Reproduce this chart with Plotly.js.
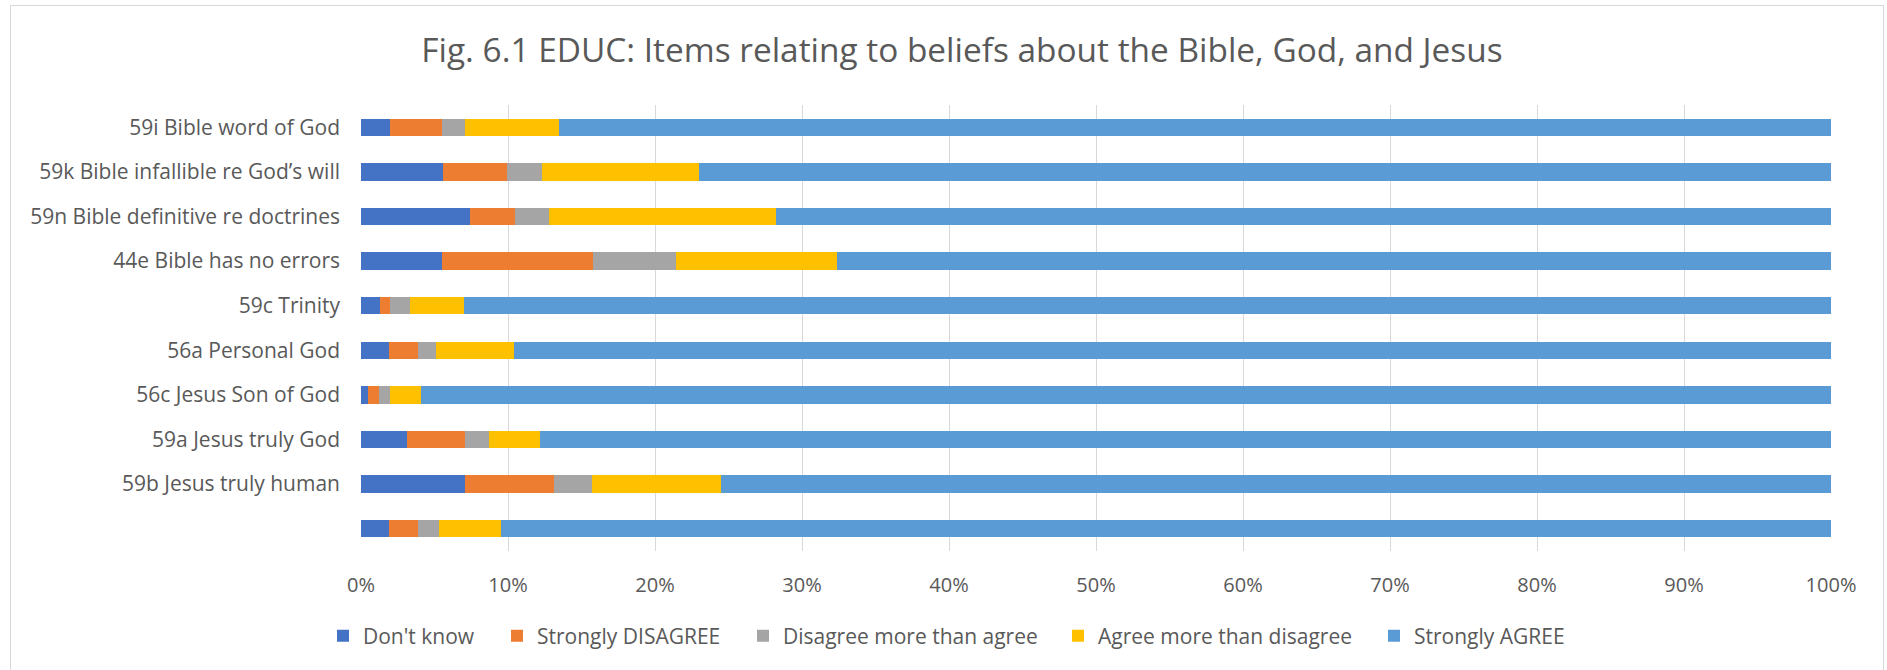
<!DOCTYPE html>
<html>
<head>
<meta charset="utf-8">
<script src="https://cdn.plot.ly/plotly-3.0.1.min.js"></script>
<style>
  html, body { margin: 0; padding: 0; background: #ffffff; }
  #wrap { position: relative; width: 1887px; height: 670px; }
  #chart { width: 1887px; height: 670px; }
  #frame { position: absolute; left: 10px; top: 5px; width: 1874px; height: 670px;
           border: 1px solid #D9D9D9; box-sizing: border-box; pointer-events: none; }
</style>
</head>
<body>
<div id="wrap">
  <div id="chart"></div>
  <div id="frame"></div>
</div>
<script>
const categories = [
  "59i Bible word of God",
  "59k Bible infallible re God\u2019s will",
  "59n Bible definitive re doctrines",
  "44e Bible has no errors",
  "59c Trinity",
  "56a Personal God",
  "56c Jesus Son of God",
  "59a Jesus truly God",
  "59b Jesus truly human",
  " "
];
const seriesNames = ["Don't know", "Strongly DISAGREE", "Disagree more than agree", "Agree more than disagree", "Strongly AGREE"];
const dontKnow        = [2.0, 5.6, 7.4, 5.5, 1.3, 1.9, 0.5, 3.1, 7.1, 1.9];
const stronglyDisagree= [3.5, 4.3, 3.1, 10.3, 0.7, 2.0, 0.7, 4.0, 6.0, 2.0];
const disagreeMore    = [1.6, 2.4, 2.3, 5.6, 1.3, 1.2, 0.8, 1.6, 2.6, 1.4];
const agreeMore       = [6.4, 10.7, 15.4, 11.0, 3.7, 5.3, 2.1, 3.5, 8.8, 4.2];
const stronglyAgree   = [86.5, 77.0, 71.8, 67.6, 93.0, 89.6, 95.9, 87.8, 75.5, 90.5];
const tickVals = [0, 10, 20, 30, 40, 50, 60, 70, 80, 90, 100];
const tickText = ["0%", "10%", "20%", "30%", "40%", "50%", "60%", "70%", "80%", "90%", "100%"];

const colors = ["#4472C4", "#ED7D31", "#A5A5A5", "#FFC000", "#5B9BD5"];
const allSeries = [dontKnow, stronglyDisagree, disagreeMore, agreeMore, stronglyAgree];
const legendIds = ["legend", "legend2", "legend3", "legend4", "legend5"];
// pixel x where each legend label text starts in the picture
const legendTextStart = [363, 537, 783, 1098, 1414];

const traces = allSeries.map((vals, i) => ({
  type: "bar",
  orientation: "h",
  name: seriesNames[i],
  x: vals,
  y: categories,
  legend: legendIds[i],
  marker: { color: colors[i], line: { width: 0 } },
  hoverinfo: "x+y+name"
}));

const font = "'Open Sans', 'Noto Sans', sans-serif";
const plotL = 361, plotR = 1831, plotT = 105, plotB = 551;
const plotW = plotR - plotL, plotH = plotB - plotT;

const layout = {
  width: 1887,
  height: 670,
  paper_bgcolor: "#ffffff",
  plot_bgcolor: "#ffffff",
  barmode: "stack",
  bargap: 0.61,
  margin: { l: plotL, r: 1887 - plotR, t: plotT, b: 670 - plotB, pad: 0 },
  title: {
    text: "Fig. 6.1 EDUC: Items relating to beliefs about the Bible, God, and Jesus",
    font: { family: font, size: 33.4, color: "#595959" },
    x: (420 + 1504) / 2 / 1887, xanchor: "center", xref: "container",
    y: 1 - 50 / 670, yanchor: "middle", yref: "container"
  },
  font: { family: font, size: 21, color: "#595959" },
  xaxis: {
    range: [0, 100],
    tickvals: tickVals,
    ticktext: tickText,
    showgrid: true,
    gridcolor: "#D9D9D9",
    gridwidth: 1,
    zeroline: false,
    showline: false,
    ticks: "",
    ticklabelstandoff: 20,
    tickfont: { family: font, size: 20, color: "#595959" },
    fixedrange: true
  },
  yaxis: {
    type: "category",
    categoryorder: "array",
    categoryarray: categories,
    autorange: "reversed",
    showgrid: false,
    zeroline: false,
    showline: false,
    ticks: "",
    ticklabelstandoff: 20,
    tickfont: { family: font, size: 21, color: "#595959" },
    fixedrange: true
  },
  showlegend: true
};

legendIds.forEach((id, i) => {
  layout[id] = {
    orientation: "h",
    x: (legendTextStart[i] - 40 - plotL) / plotW,
    xanchor: "left",
    y: (plotB - 636) / plotH,
    yanchor: "middle",
    font: { family: font, size: 21, color: "#595959" },
    itemwidth: 30,
    bgcolor: "rgba(0,0,0,0)"
  };
});

Plotly.newPlot("chart", traces, layout, { displayModeBar: false, staticPlot: true });
</script>
</body>
</html>
